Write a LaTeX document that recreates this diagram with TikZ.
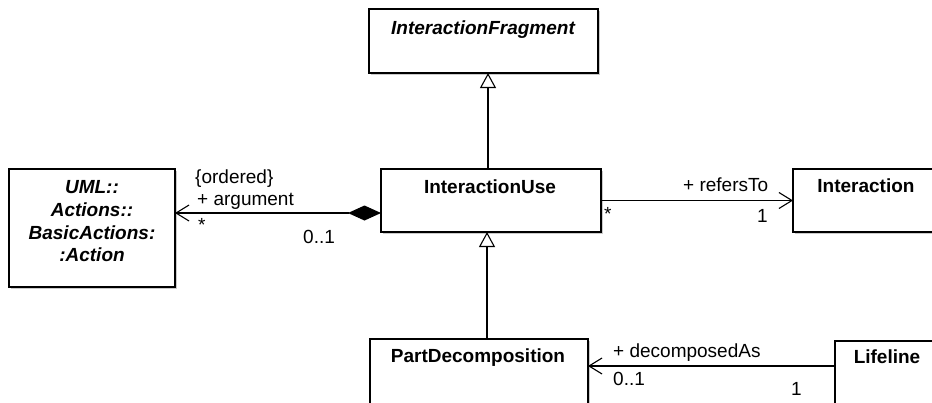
\documentclass[tikz,border=0pt]{standalone}
\usepackage{fontspec}
\setmainfont{Liberation Sans}
\usetikzlibrary{arrows.meta,shadows,calc}
\begin{document}
\begin{tikzpicture}[x=1pt,y=-1pt,
  cls/.style={draw=black, line width=1.3pt, fill=white, anchor=north west, inner sep=0pt, outer sep=0pt,
    drop shadow={shadow xshift=1.6pt, shadow yshift=-1.6pt, opacity=0.35, fill=black!60}},
  cname/.style={font=\fontsize{19}{22}\selectfont\bfseries, anchor=base, inner sep=0pt},
  aname/.style={font=\fontsize{19}{22}\selectfont\bfseries\itshape, anchor=base, inner sep=0pt},
  lbl/.style={font=\fontsize{19}{22}\selectfont, anchor=base west, inner sep=0pt},
  assoc/.style={line width=1.1pt},
  openarr/.style={-{Straight Barb[length=13pt,width=16pt,line width=1.1pt]}},
  gen/.style={line width=1.1pt, -{Triangle[open,length=15pt,width=16pt,line width=1.1pt,fill=white]}},
]
\useasboundingbox (0,0) rectangle (932,402);
\begin{scope}
\clip (0,0) rectangle (932,402);
% boxes
\node[cls, minimum width=229pt, minimum height=64pt] (frag) at (369,9) {};
\node[cls, minimum width=166pt, minimum height=118pt] (action) at (9,169) {};
\node[cls, minimum width=220pt, minimum height=63pt] (use) at (381,169) {};
\node[cls, minimum width=160pt, minimum height=63pt] (inter) at (793,169) {};
\node[cls, minimum width=218pt, minimum height=80pt] (part) at (370,339) {};
\node[cls, minimum width=120pt, minimum height=80pt] (life) at (835,341) {};
\end{scope}
% class names
\node[aname] (fragT) at (483,34) {InteractionFragment};
\node[aname] (actT1) at (92,193) {UML::};
\node[aname] (actT2) at (92,216) {Actions::};
\node[aname] (actT3) at (92,239) {BasicActions:};
\node[aname] (actT4) at (92,261) {:Action};
\node[cname] (useT) at (490,193) {InteractionUse};
\node[cname] (interT) at (866,192) {Interaction};
\node[cname] (partT) at (478,362) {PartDecomposition};
\node[cname] (lifeT) at (887,363) {Lifeline};
% connection coordinates
\coordinate (argy) at (0,213);
\coordinate (decy) at (0,366);
\coordinate (g1x) at (488,0);
\coordinate (g2x) at (487,0);
% generalizations
\draw[gen] (use.north -| g1x) -- (frag.south -| g1x);
\draw[gen] (part.north -| g2x) -- (use.south -| g2x);
% composition argument
\draw[assoc, {Straight Barb[length=13pt,width=16pt,line width=1.1pt]}-{Diamond[length=33pt,width=15pt,fill=black]}]
  (action.east |- argy) -- (use.west |- argy);
% refersTo
\draw[assoc, openarr] (use.east) -- (inter.west);
% decomposedAs
\draw[assoc, openarr] (life.west |- decy) -- (part.east |- decy);
% labels
\node[lbl] (l1) at (195,183) {\{ordered\}};
\node[lbl] (l2) at (197,205) {+ argument};
\node[lbl] (l3) at (198,231) {*};
\node[lbl] (l4) at (303,243) {0..1};
\node[lbl] (l5) at (683,191) {+ refersTo};
\node[lbl] (l6) at (604,220) {*};
\node[lbl] (l7) at (757,222) {1};
\node[lbl] (l8) at (613,357) {+ decomposedAs};
\node[lbl] (l9) at (613,385) {0..1};
\node[lbl] (l10) at (791,395) {1};
\end{tikzpicture}
\end{document}
